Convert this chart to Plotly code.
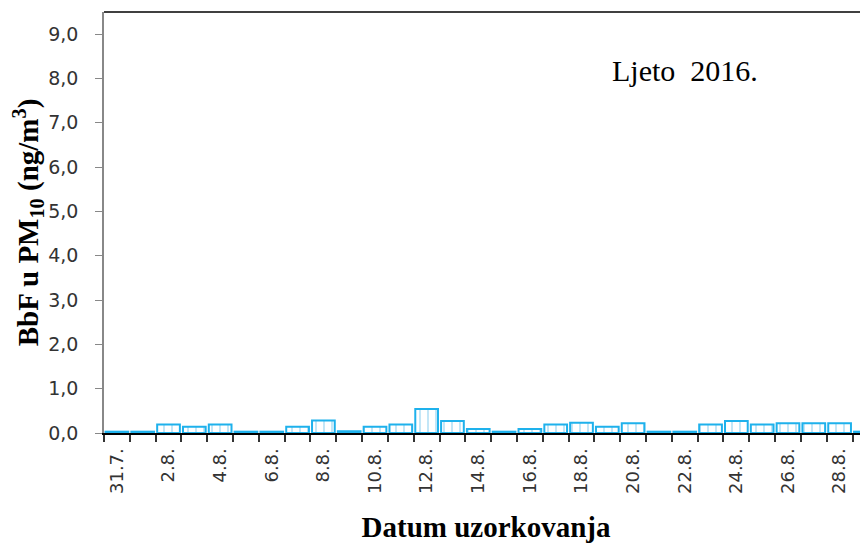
import plotly.graph_objects as go

dates = ["31.7.", "1.8.", "2.8.", "3.8.", "4.8.", "5.8.", "6.8.", "7.8.", "8.8.", "9.8.",
         "10.8.", "11.8.", "12.8.", "13.8.", "14.8.", "15.8.", "16.8.", "17.8.", "18.8.", "19.8.",
         "20.8.", "21.8.", "22.8.", "23.8.", "24.8.", "25.8.", "26.8.", "27.8.", "28.8.", "29.8."]
bbf = [0.03, 0.03, 0.19, 0.14, 0.19, 0.03, 0.03, 0.14, 0.28, 0.04,
       0.14, 0.19, 0.54, 0.27, 0.09, 0.03, 0.09, 0.19, 0.23, 0.14,
       0.22, 0.03, 0.03, 0.19, 0.27, 0.19, 0.22, 0.22, 0.22, 0.03]
y_ticks = [0, 1, 2, 3, 4, 5, 6, 7, 8, 9]

idx = list(range(len(dates)))

fig = go.Figure()
fig.add_trace(go.Bar(
    x=idx, y=bbf, width=0.88,
    marker=dict(
        color="white",
        line=dict(color="#1EB1EC", width=2),
        pattern=dict(shape="|", fgcolor="#9ad6f2", bgcolor="white", size=8, solidity=0.15, fillmode="replace"),
    ),
    showlegend=False,
))

fig.update_layout(
    width=860, height=540,
    margin=dict(l=96, r=0, t=4, b=115),
    paper_bgcolor="white", plot_bgcolor="white",
    separators=",.",
    font=dict(family="DejaVu Sans", size=18, color="#333333"),
    xaxis=dict(
        range=[-0.5, 29.1],
        tickmode="array",
        tickvals=idx[::2],
        ticktext=dates[::2],
        tickangle=-90,
        ticks="",
        showgrid=False,
        showline=True, linecolor="black", linewidth=2,
        tickfont=dict(family="DejaVu Sans", size=18, color="#333333"),
        minor=dict(ticks="outside", tick0=0.5, dtick=1, ticklen=7, tickwidth=2, tickcolor="#333333", showgrid=False),
        ticklabelstandoff=6,
        title=dict(text="<b>Datum uzorkovanja</b>", font=dict(family="Liberation Serif", size=29, color="black"), standoff=24),
        zeroline=False,
    ),
    yaxis=dict(
        range=[0, 9.5],
        tickmode="array",
        tickvals=y_ticks,
        tickformat=".1f",
        ticks="outside", ticklen=7, tickcolor="#888888",
        showgrid=False,
        showline=True, linecolor="#888888", linewidth=1.5,
        zeroline=False,
        ticklabelstandoff=13,
        tickfont=dict(family="DejaVu Sans", size=19, color="#333333"),
        title=dict(text="<b>BbF u PM<sub>10</sub> (ng/m<sup>3</sup>)</b>", font=dict(family="Liberation Serif", size=29, color="black"), standoff=6),
    ),
    shapes=[dict(type="line", xref="paper", yref="paper", x0=0, x1=1, y0=1, y1=1,
                 line=dict(color="#404040", width=2))],
    annotations=[dict(text="Ljeto  2016.", xref="paper", yref="paper", x=0.76, y=0.86,
                      xanchor="center", yanchor="middle",
                      showarrow=False, font=dict(family="Liberation Serif", size=30, color="black"))],
)

fig.write_html("out.html")
